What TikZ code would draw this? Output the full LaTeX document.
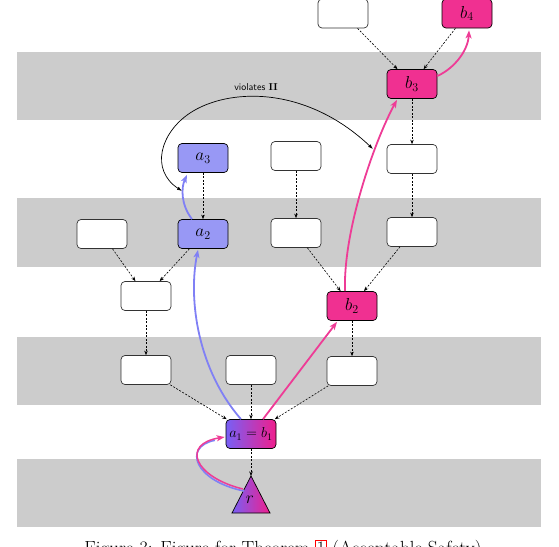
\documentclass[tikz,border=0pt]{standalone}
\usetikzlibrary{arrows.meta,calc}
\definecolor{bandgray}{RGB}{204,204,204}
\definecolor{nodeblue}{RGB}{152,152,245}
\definecolor{arrblue}{RGB}{128,128,245}
\definecolor{nodepink}{RGB}{240,48,145}
\definecolor{arrpink}{RGB}{238,60,150}
\definecolor{gradblue}{RGB}{120,95,245}
\definecolor{gradpink}{RGB}{240,30,140}
\begin{document}
\begin{tikzpicture}[x=1pt,y=-1pt,
 box/.style={draw=black!80, rounded corners=4pt, minimum width=50pt, minimum height=29pt, inner sep=0pt, line width=0.7pt, fill=white, font=\LARGE},
 bluebox/.style={box, draw=black, fill=nodeblue},
 pinkbox/.style={box, draw=black, fill=nodepink},
 gradbox/.style={box, draw=black, left color=gradblue, right color=gradpink, font=\Large},
 dep/.style={draw, dash pattern=on 2pt off 1.5pt, line width=0.6pt, -{Stealth[length=4.5pt,width=3.5pt]}},
 bluearr/.style={draw=arrblue, line width=1.8pt, -{Stealth[length=8pt,width=6pt,inset=2pt]}},
 pinkarr/.style={draw=arrpink, line width=1.8pt, -{Stealth[length=8pt,width=6pt,inset=2pt]}},
 band/.style={fill=bandgray}
]
\useasboundingbox (0,0) rectangle (559,546);
% bands
\fill[band] (17,52) rectangle (541,120);
\fill[band] (17,198) rectangle (541,267);
\fill[band] (17,337) rectangle (541,405);
\fill[band] (17,459) rectangle (541,527);

% nodes
\node[box] (t1) at (343,13.5) {};
\node[pinkbox] (b4) at (467,13.5) {$b_4$};
\node[pinkbox] (b3) at (412,84) {$b_3$};
\node[bluebox] (a3) at (203,158) {$a_3$};
\node[box] (m1) at (296,156) {};
\node[box] (r1) at (412,159) {};
\node[box] (l2) at (102,234) {};
\node[bluebox] (a2) at (203,234) {$a_2$};
\node[box] (m2) at (296,233) {};
\node[box] (r2) at (412,232) {};
\node[box] (c3) at (146,296) {};
\node[pinkbox] (b2) at (352,306) {$b_2$};
\node[box] (c4) at (146,370) {};
\node[box] (m4) at (251,370) {};
\node[box] (r4) at (352,371) {};
\node[gradbox] (a1b1) at (251,434) {$a_1=b_1$};

% root triangle
\coordinate (rT) at (251,476);
\coordinate (rL) at (232,513);
\coordinate (rR) at (270,513);
\path[draw=black, line width=0.7pt, left color=gradblue, right color=gradpink] (rT) -- (rR) -- (rL) -- cycle;
\node[font=\LARGE] (r) at (250,500) {$r$};

% dashed dependency edges
\draw[dep] (t1) -- (b3);
\draw[dep] (b4) -- (b3);
\draw[dep] (b3) -- (r1);
\draw[dep] (a3) -- (a2);
\draw[dep] (m1) -- (m2);
\draw[dep] (r1) -- (r2);
\draw[dep] (l2) -- (c3);
\draw[dep] (a2) -- (c3);
\draw[dep] (c3) -- (c4);
\draw[dep] (m2) -- (b2);
\draw[dep] (r2) -- (b2);
\draw[dep] (b2) -- (r4);
\draw[dep] (c4) -- (a1b1);
\draw[dep] (m4) -- (a1b1);
\draw[dep] (r4) -- (a1b1);
\draw[dep] (a1b1) -- (rT);

% blue chain
\draw[bluearr] ($(a1b1.north)+(-10,0)$) .. controls (198,370) and (188,300) .. ($(a2.south)+(-5,1)$);
\draw[bluearr] ($(a2.north)+(-11,0)$) .. controls (181,205) and (181,188) .. ($(a3.south)+(-16,2)$);

% pink chain
\draw[pinkarr] ($(a1b1.north)+(12,0)$) -- ($(b2.south)+(-15,1)$);
\draw[pinkarr] ($(b2.north)+(-7,0)$) .. controls (343,230) and (375,140) .. ($(b3.south)+(-15,1)$);
\draw[pinkarr] ($(b3.east)+(0,-8)$) .. controls (455,68) and (468,50) .. ($(b4.south)+(2,2)$);

% root to a1=b1 (two-coloured)
\coordinate (rS) at (243,489);
\draw[draw=arrblue, line width=1.6pt, shorten >=9pt] ($(rS)+(1,2)$) .. controls (195,481) and (182,447) .. ($(a1b1.west)+(-2,4.5)$);
\draw[pinkarr, line width=1.5pt] (rS) .. controls (194,477) and (181,444) .. ($(a1b1.west)+(-1,3)$);

% violates II
\coordinate (vA) at (182,191);
\coordinate (vB) at (373,149);
\draw[line width=0.7pt, {Latex[length=5pt,width=3.5pt]}-{Latex[length=5pt,width=3.5pt]}] (vA) .. controls (150,170) and (160,133) .. (190,113) .. controls (228,88) and (305,85) .. (vB);
\node[font=\sffamily] (vio) at (256,87) {violates $\mathbf{II}$};

% caption (cut off by the frame, as in the reference)
\node[anchor=base, font=\fontsize{19}{22}\selectfont] (cap) at (283,554) {Figure 3: Figure for Theorem {\color{red}\setlength\fboxsep{0.5pt}\setlength\fboxrule{0.8pt}\fbox{\color{black}1}} (Acceptable Safety)};
\end{tikzpicture}
\end{document}
